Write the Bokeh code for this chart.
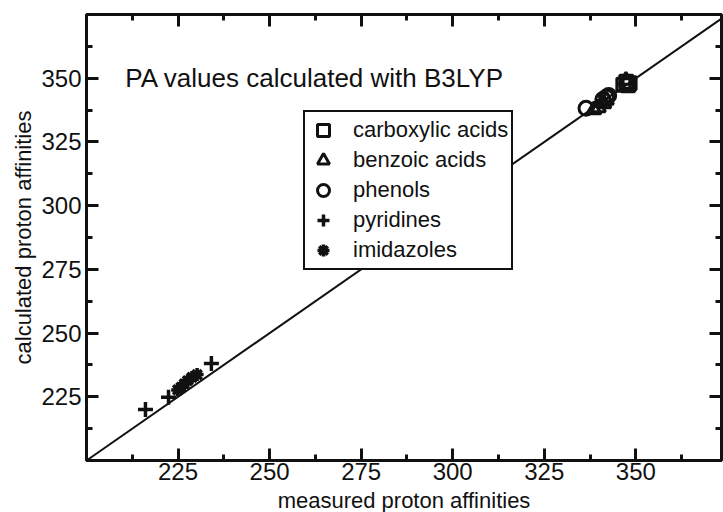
from bokeh.plotting import figure
from bokeh.models import (FixedTicker, LinearAxis, Label, Legend, LegendItem,
                          Range1d)
from bokeh.embed import file_html
from bokeh.resources import INLINE

# Measured vs. calculated proton affinities (kcal/mol)
carboxylic_measured = [346.6, 347.4, 348.3, 347.9]
carboxylic_calc = [347.4, 348.6, 348.0, 347.2]

benzoic_measured = [338.6, 339.8, 341.3, 342.0, 347.3]
benzoic_calc = [337.6, 338.4, 340.0, 341.4, 349.2]

phenol_measured = [336.4, 341.0, 342.0, 342.6]
phenol_calc = [338.2, 341.6, 342.6, 343.2]

pyridine_measured = [216.1, 222.4, 234.1]
pyridine_calc = [220.0, 224.8, 238.1]

imidazole_measured = [224.9, 225.8, 226.7, 227.6, 228.8, 230.2]
imidazole_calc = [227.7, 228.7, 230.1, 231.3, 232.6, 233.7]

diagonal = [200, 375]

major_ticks = [225, 250, 275, 300, 325, 350]
minor_ticks = [212.5, 237.5, 262.5, 287.5, 312.5, 337.5, 362.5]

FONT = "Liberation Sans"
INK = "#111111"

p = figure(frame_width=635, frame_height=446,
           x_range=Range1d(200, 373.4), y_range=Range1d(200, 375),
           output_backend="svg", toolbar_location=None,
           min_border_left=86, min_border_right=2,
           min_border_top=14, min_border_bottom=52,
           x_axis_label="measured proton affinities",
           y_axis_label="calculated proton affinities")
p.xgrid.visible = False
p.ygrid.visible = False
p.outline_line_color = INK
p.outline_line_width = 3
p.background_fill_color = "white"
p.border_fill_color = "white"

# mirrored axes on top and right, ticks only
p.add_layout(LinearAxis(), "above")
p.add_layout(LinearAxis(), "right")

for ax in p.axis:
    ax.ticker = FixedTicker(ticks=major_ticks, minor_ticks=minor_ticks)
    ax.axis_line_color = INK
    ax.axis_line_width = 3
    ax.major_tick_line_color = INK
    ax.major_tick_line_width = 3
    ax.minor_tick_line_color = INK
    ax.minor_tick_line_width = 3
    ax.major_tick_in = 12
    ax.major_tick_out = 0
    ax.minor_tick_in = 6
    ax.minor_tick_out = 0
    ax.major_label_text_font = FONT
    ax.major_label_text_color = INK
    ax.major_label_text_font_size = "24px"
    ax.axis_label_text_font = FONT
    ax.axis_label_text_font_style = "normal"
    ax.axis_label_text_color = INK
    ax.axis_label_text_font_size = "22px"

for ax in p.above + p.right:
    ax.major_label_overrides = {t: "" for t in major_ticks}
    ax.major_label_standoff = 0

p.below[0].major_label_standoff = 2
p.below[0].axis_label_standoff = 5
p.left[0].major_label_standoff = 5
p.left[0].axis_label_standoff = 2

# y = x reference line
p.line(diagonal, diagonal, line_color=INK, line_width=2)

r_carb = p.scatter(carboxylic_measured, carboxylic_calc, marker="square",
                   size=13, fill_color=None, line_color=INK, line_width=3)
r_benz = p.scatter(benzoic_measured, benzoic_calc, marker="triangle",
                   size=14, fill_color=None, line_color=INK, line_width=3)
r_phen = p.scatter(phenol_measured, phenol_calc, marker="circle",
                   size=14, fill_color=None, line_color=INK, line_width=3)
r_pyr = p.scatter(pyridine_measured, pyridine_calc, marker="cross",
                  size=15, line_color=INK, line_width=3.5)
r_imid = p.scatter(imidazole_measured, imidazole_calc, marker="asterisk",
                   size=13, line_color=INK, line_width=3.5)

legend = Legend(items=[
    LegendItem(label="carboxylic acids", renderers=[r_carb]),
    LegendItem(label="benzoic acids", renderers=[r_benz]),
    LegendItem(label="phenols", renderers=[r_phen]),
    LegendItem(label="pyridines", renderers=[r_pyr]),
    LegendItem(label="imidazoles", renderers=[r_imid]),
], location=(217, 190))
legend.border_line_color = INK
legend.border_line_alpha = 1
legend.border_line_width = 2.5
legend.background_fill_color = "white"
legend.background_fill_alpha = 1
legend.label_text_font = FONT
legend.label_text_font_size = "22px"
legend.label_text_color = INK
legend.label_height = 26
legend.glyph_height = 30
legend.glyph_width = 30
legend.label_standoff = 15
legend.spacing = -4
legend.padding = 3
legend.margin = 0
p.add_layout(legend, "center")

p.add_layout(Label(x=210.6, y=350.1, text="PA values calculated with B3LYP",
                   text_font=FONT, text_font_size="26px", text_color=INK,
                   text_baseline="alphabetic"))

open("out.html", "w").write(file_html(p, INLINE))
